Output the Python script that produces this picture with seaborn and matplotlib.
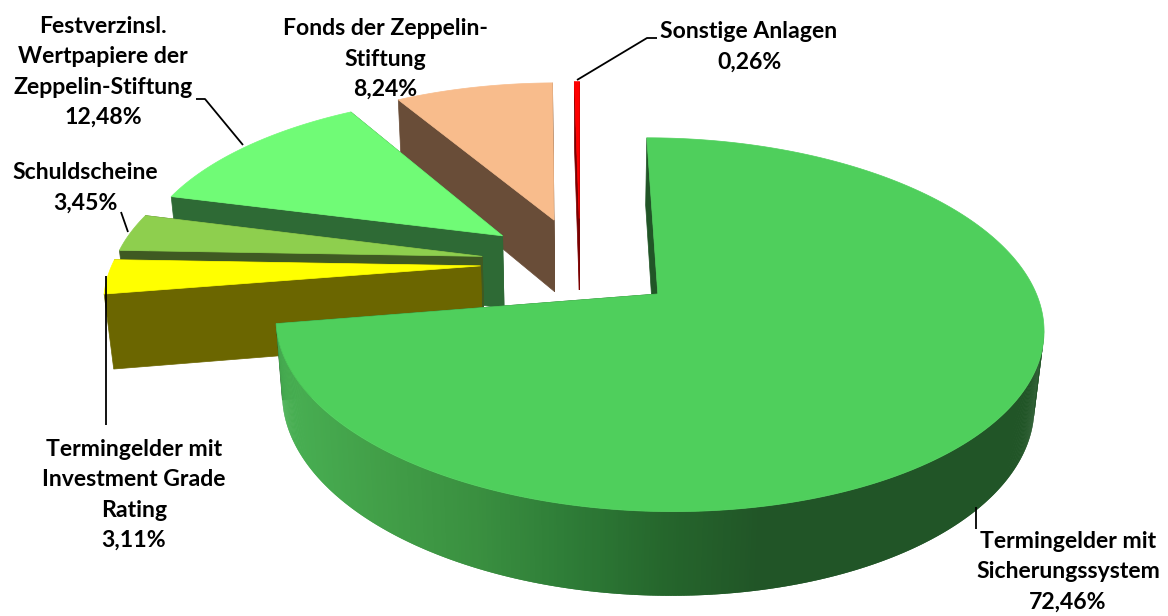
import numpy as np
import matplotlib
matplotlib.use('Agg')
import matplotlib.pyplot as plt
import seaborn as sns

# Anteile in Prozent, im Uhrzeigersinn ab 12 Uhr
kategorien = ['Termingelder mit\nSicherungssystem', 'Termingelder mit\nInvestment Grade\nRating', 'Schuldscheine',
              'Festverzinsl.\nWertpapiere der\nZeppelin-Stiftung', 'Fonds der Zeppelin-\nStiftung', 'Sonstige Anlagen']
werte = [72.46, 3.11, 3.45, 12.48, 8.24, 0.26]
werte_text = ['72,46%', '3,11%', '3,45%', '12,48%', '8,24%', '0,26%']

farben_oben = ['#4fcf5c', '#ffff00', '#8ecf4e', '#70fb76', '#f8bc8c', '#ff0000']
farben_wand = ['#215527', '#6b6600', '#3f5a22', '#2e6a35', '#694d38', '#7a0000']
verlauf = ['#48b053', '#429f48', '#3a9040', '#2e7c37', '#25662c', '#215527']

text_pos = [(1068, 572), (134, 495), (85, 188), (103, 72), (385, 59), (749, 47)]
linien = [[(976, 507), (976, 529)],
          [(106, 276), (106, 425)],
          [(128, 232), (121, 212)],
          [(243, 145), (205, 99), (196, 99)],
          None,
          [(577, 80), (647, 38), (657, 38)]]

sns.set_theme(style='white')
plt.rcParams['font.family'] = ['Lato', 'DejaVu Sans']

fig, ax = plt.subplots(figsize=(11.68, 6.16), dpi=100)
fig.subplots_adjust(0, 0, 1, 1)

# pie liefert Winkel und Explosion, die 3D-Ansicht wird daraus projiziert
wedges, _ = ax.pie(werte, startangle=90, counterclock=False, explode=[0.27] * len(werte))
stuecke = [(w.center, w.theta1, w.theta2) for w in wedges]
for w in wedges:
    w.remove()
ax.set_aspect('auto')
ax.set_xlim(0, 1168)
ax.set_ylim(616, 0)
ax.axis('off')


def proj(x, y, z=0.0):
    w = 1 + 0.16 * np.asarray(y) + 0.02 * z
    return 580 + 368 * np.asarray(x) / w, 263 - (171.8 * np.asarray(y) - 75 * z) / w


def flaeche(xs, ys, farbe, zo, lw=0.5):
    ax.fill(xs, ys, color=farbe, lw=lw, zorder=zo)


zeichen_folge = [5, 4, 3, 2, 1, 0]
pal = sns.blend_palette(verlauf, n_colors=256)
for zo, i in enumerate(zeichen_folge):
    (cx, cy), t1, t2 = stuecke[i]
    t = np.radians(np.linspace(t1, t2, max(int(t2 - t1) * 3, 12)))
    rx, ry = cx + np.cos(t), cy + np.sin(t)
    base = zo * 10

    # Schnittflaechen
    for ex, ey in [(rx[0], ry[0]), (rx[-1], ry[-1])]:
        x0, y0 = proj([cx, ex], [cy, ey], 0)
        x1, y1 = proj([ex, cx], [ey, cy], 1)
        flaeche(np.r_[x0, x1], np.r_[y0, y1], farben_wand[i], base)

    # Aussenwand, nur der vordere Teil, beim grossen Stueck mit Verlauf
    oben_x, oben_y = proj(rx, ry, 0)
    unten_x, unten_y = proj(rx, ry, 1)
    vorne = [k for k in range(len(t) - 1) if oben_x[k + 1] > oben_x[k]]
    for k in vorne:
        f = farben_wand[i]
        if i == 0:
            f = pal[int(np.clip((oben_x[k] - 280) / (760 - 280), 0, 1) * 255)]
        # ueberlappend zeichnen, damit keine Streifen zwischen den Segmenten bleiben
        k2 = min(k + 2, len(t) - 1)
        flaeche([oben_x[k], oben_x[k2], unten_x[k2], unten_x[k]],
                [oben_y[k], oben_y[k2], unten_y[k2], unten_y[k]], f, base + 1, lw=0)

    # Deckel
    dx, dy = proj(np.r_[cx, rx], np.r_[cy, ry], 0)
    flaeche(dx, dy, farben_oben[i], base + 2)

for name, wert, pos, linie in zip(kategorien, werte_text, text_pos, linien):
    ax.text(pos[0], pos[1], f'{name}\n{wert}', ha='center', va='center', fontsize=16.6,
            fontweight='bold', color='black', linespacing=1.53, zorder=100)
    if linie:
        ax.plot(*zip(*linie), color='black', lw=1.3, zorder=90, solid_capstyle='butt')

fig.savefig('out.png', dpi=100)
